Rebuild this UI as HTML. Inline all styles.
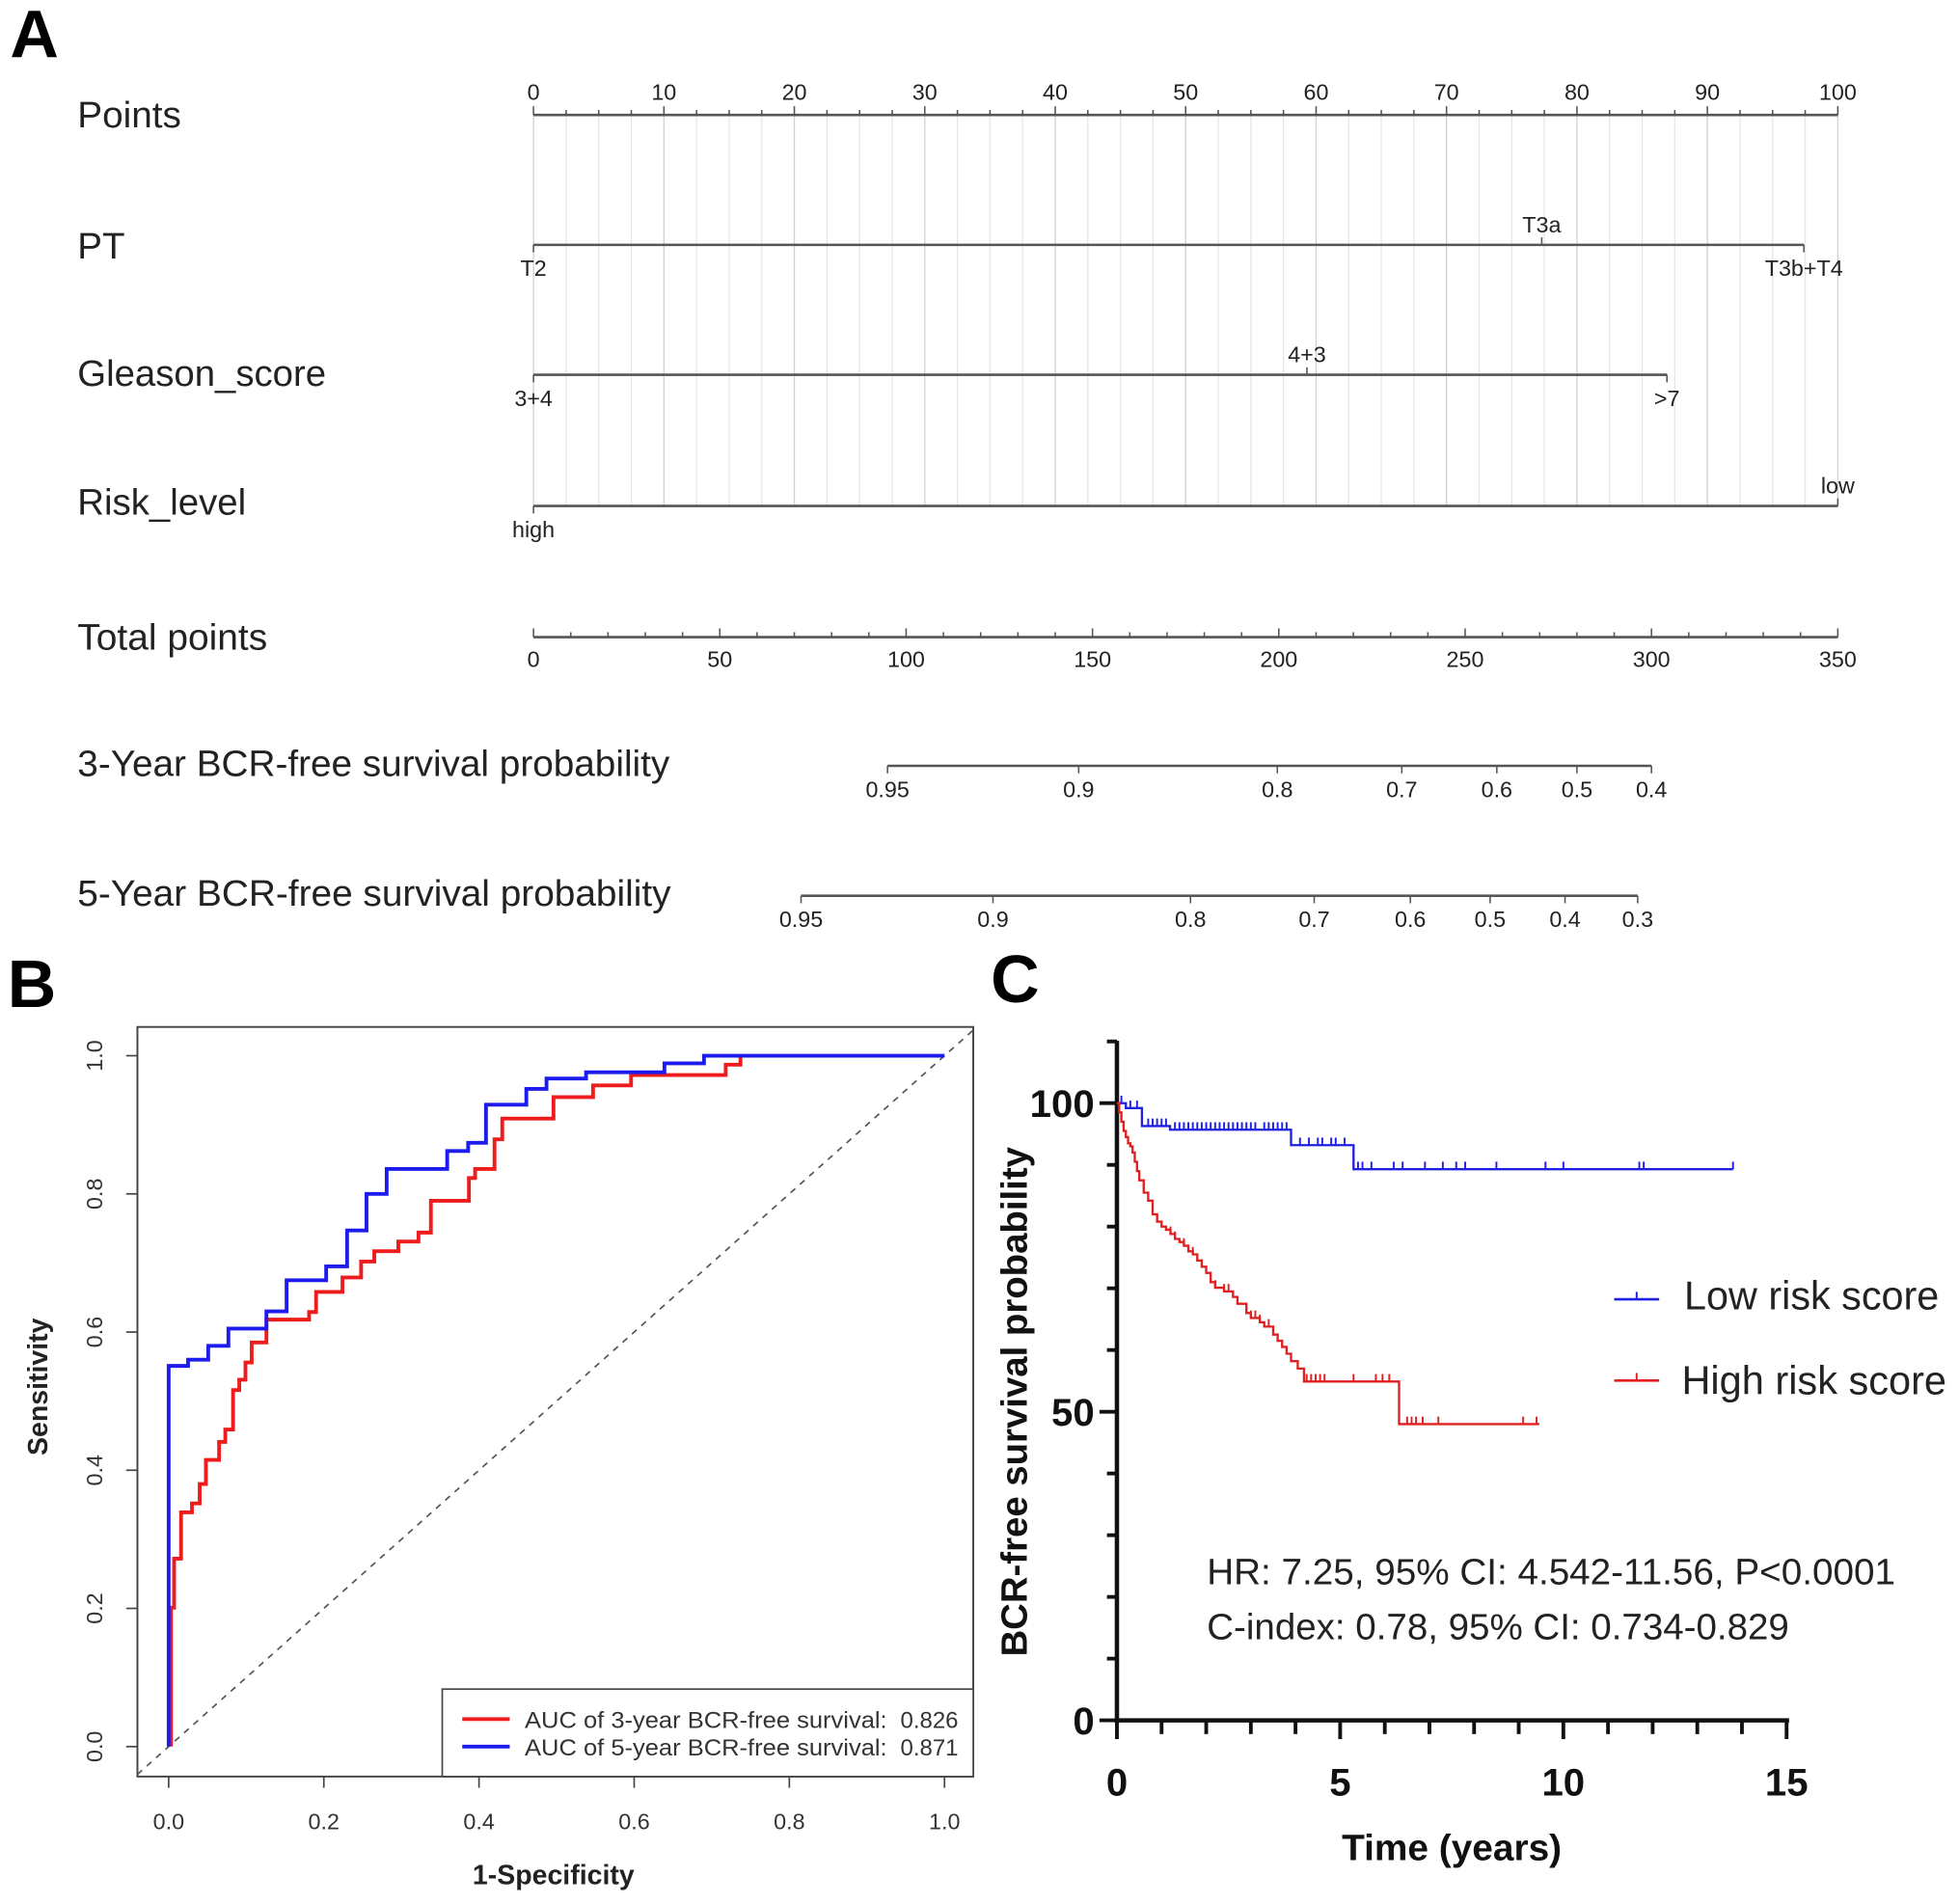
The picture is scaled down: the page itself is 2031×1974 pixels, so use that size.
<!DOCTYPE html>
<html><head><meta charset="utf-8"><style>
html,body{margin:0;padding:0;background:#fff}
svg{display:block}
text{font-family:"Liberation Sans",Arial,sans-serif}
</style></head><body>
<svg id="fig" xmlns="http://www.w3.org/2000/svg" width="2031" height="1974" viewBox="0 0 1568 1524" preserveAspectRatio="none">
<rect width="1568" height="1524" fill="#fff"/>
<text x="8" y="46" font-size="54" font-weight="bold">A</text>
<text x="6" y="806" font-size="54" font-weight="bold">B</text>
<text x="793" y="802" font-size="54" font-weight="bold">C</text>
<g id="nomo"></g>
<g id="roc"></g>
<g id="km"></g>
</svg>
<script>
// ===== Nomogram data =====
const pointTicks=[0,10,20,30,40,50,60,70,80,90,100];
const rowNames=["Points","PT","Gleason_score","Risk_level","Total points","3-Year BCR-free survival probability","5-Year BCR-free survival probability"];
const ptLevels=["T2","T3a","T3b+T4"];
const ptPoints=[0,77.3,97.4];
const gleasonLevels=["3+4","4+3",">7"];
const gleasonPoints=[0,59.3,86.9];
const riskLevels=["high","low"];
const riskPoints=[0,100];
const totalTicks=[0,50,100,150,200,250,300,350];
const surv3Labels=["0.95","0.9","0.8","0.7","0.6","0.5","0.4"];
const surv3Total=[95,146.3,199.6,233,258.5,280,300];
const surv5Labels=["0.95","0.9","0.8","0.7","0.6","0.5","0.4","0.3"];
const surv5Total=[71.8,123.3,176.3,209.5,235.3,256.7,276.8,296.3];

// ===== ROC data =====
const roc5Fpr=[0,0,0.025,0.051,0.077,0.126,0.152,0.203,0.230,0.255,0.281,0.359,0.386,0.409,0.461,0.487,0.538,0.639,0.690,1.0];
const roc5Tpr=[0,0.551,0.56,0.58,0.605,0.63,0.675,0.695,0.747,0.80,0.836,0.862,0.874,0.929,0.952,0.967,0.976,0.989,1.0,1.0];
const roc3Fpr=[0.003,0.003,0.007,0.016,0.030,0.040,0.048,0.065,0.073,0.083,0.091,0.099,0.107,0.126,0.181,0.190,0.224,0.248,0.265,0.296,0.322,0.338,0.387,0.395,0.420,0.430,0.496,0.547,0.596,0.718,0.737];
const roc3Tpr=[0,0.201,0.272,0.339,0.352,0.38,0.415,0.441,0.459,0.516,0.531,0.556,0.585,0.618,0.629,0.658,0.679,0.702,0.717,0.731,0.744,0.79,0.823,0.836,0.879,0.909,0.94,0.957,0.972,0.987,1.0];
const rocTicks=[0,0.2,0.4,0.6,0.8,1.0];

// ===== KM data =====
const lowTimes=[0,0.2,0.56,1.19,3.9,5.3,13.8];
const lowSurv=[100,99.2,96.3,95.7,93.2,89.3,89.3];
const lowCensor=[0.1,0.3,0.45,0.7,0.8,0.9,1.0,1.1,1.3,1.4,1.5,1.6,1.7,1.8,1.9,2.0,2.1,2.2,2.3,2.4,2.5,2.6,2.7,2.8,2.9,3.0,3.1,3.3,3.4,3.5,3.6,3.7,3.8,4.1,4.3,4.5,4.6,4.8,4.9,5.1,5.4,5.5,5.7,6.2,6.4,6.9,7.3,7.6,7.8,8.5,9.6,10.0,11.7,11.8,13.8];
const highTimes=[0,0.05,0.1,0.15,0.2,0.25,0.3,0.35,0.4,0.45,0.5,0.6,0.7,0.8,0.9,1.0,1.1,1.2,1.3,1.4,1.5,1.6,1.7,1.8,1.9,2.0,2.1,2.2,2.4,2.6,2.7,2.9,3.0,3.2,3.3,3.5,3.6,3.7,3.8,3.9,4.05,4.19,6.32,9.46];
const highSurv=[100,98.5,97,95.5,94.5,93.5,93,92,90.5,89,87.5,85.5,84.2,82,80.8,80,79.5,78.8,78,77.5,76.9,76,75.5,74.5,73.5,72.5,71,70.1,69.5,68.6,67.5,66,65.2,64.5,63.8,62.5,61.5,60.5,59.4,58.2,57,54.9,48,48];
const highCensor=[0.5,0.9,1.2,1.3,1.5,1.7,1.9,2.1,2.2,2.4,2.5,2.7,2.9,3.0,3.1,3.2,3.4,3.5,3.6,4.25,4.35,4.45,4.55,4.65,5.3,5.8,5.95,6.1,6.5,6.6,6.7,6.85,7.2,9.1,9.4];
const kmXTicks=[0,5,10,15];
const kmYTicks=[0,50,100];

const NS="http://www.w3.org/2000/svg";
function mk(tag,attrs,parent,txt){const e=document.createElementNS(NS,tag);for(const k in attrs)e.setAttribute(k,attrs[k]);if(txt!==undefined)e.textContent=txt;parent.appendChild(e);return e;}

// ---- Nomogram ----
(function(){
const g=document.getElementById('nomo');
const X0=427,X1=1471;
const px=p=>X0+(X1-X0)*p/100;
const tx=t=>X0+(X1-X0)*t/350;
const rowY=[92,197,299,402,510,611,715];
const rowLen=[83,38,199,135,152,474,475];
for(let p=0;p<=100;p+=2.5){
  const l=mk('line',{x1:px(p),x2:px(p),y1:92,y2:405,stroke:(p%10===0)?'#d0d0d0':'#e6e6e6','stroke-width':1},g);
  
  
}
rowNames.forEach((n,i)=>{
  const t=mk('text',{x:62,y:rowY[i]+10,'font-size':29,fill:'#222',textLength:rowLen[i],lengthAdjust:'spacingAndGlyphs'},g,n);
  
  
});
const ax=mk('line',{x1:px(0),x2:px(100),y1:92,y2:92,stroke:'#555','stroke-width':2},g);


for(let p=0;p<=100;p+=2.5){mk('line',{x1:px(p),x2:px(p),y1:92,y2:(p%10===0)?85:88,stroke:'#555','stroke-width':1.2},g);}
pointTicks.forEach(p=>{
  const t=mk('text',{x:px(p),y:80,'font-size':18,'text-anchor':'middle',fill:'#222'},g,String(p));
  
  
});
function factor(levels,pts,y,aboveIdx,name){
  const l=mk('line',{x1:px(Math.min(...pts)),x2:px(Math.max(...pts)),y1:y,y2:y,stroke:'#555','stroke-width':2},g);
  
  
  levels.forEach((lv,i)=>{
    const above=aboveIdx.includes(i);
    mk('line',{x1:px(pts[i]),x2:px(pts[i]),y1:y,y2:above?y-6:y+6,stroke:'#555','stroke-width':1.2},g);
    const t=mk('text',{x:px(pts[i]),y:above?y-10:y+25,'font-size':18,'text-anchor':'middle',fill:'#222'},g,lv);
    
    
  });
}
factor(ptLevels,ptPoints,196,[1],'pt');
factor(gleasonLevels,gleasonPoints,300,[1],'gleason');
factor(riskLevels,riskPoints,405,[1],'risk');
const ta=mk('line',{x1:tx(0),x2:tx(350),y1:510,y2:510,stroke:'#555','stroke-width':2},g);


for(let t=0;t<=350;t+=10){mk('line',{x1:tx(t),x2:tx(t),y1:510,y2:(t%50===0)?503:506,stroke:'#555','stroke-width':1.2},g);}
totalTicks.forEach(t=>{
  const e=mk('text',{x:tx(t),y:534,'font-size':18,'text-anchor':'middle',fill:'#222'},g,String(t));
  
  
});
function survAxis(labels,tot,y,name){
  const l=mk('line',{x1:tx(Math.min(...tot)),x2:tx(Math.max(...tot)),y1:y,y2:y,stroke:'#555','stroke-width':2},g);
  
  
  labels.forEach((lb,i)=>{
    mk('line',{x1:tx(tot[i]),x2:tx(tot[i]),y1:y,y2:y+6,stroke:'#555','stroke-width':1.2},g);
    const t=mk('text',{x:tx(tot[i]),y:y+25,'font-size':18,'text-anchor':'middle',fill:'#222'},g,lb);
    
    
  });
}
survAxis(surv3Labels,surv3Total,613,'surv3');
survAxis(surv5Labels,surv5Total,717,'surv5');
})();

// ---- ROC ----
(function(){
const g=document.getElementById('roc');
const xs=v=>135+(756-135)*v;
const ys=v=>1398-(1398-845)*v;
const box=mk('rect',{x:110,y:822,width:669,height:600,fill:'none',stroke:'#444','stroke-width':1.5},g);


const d=mk('line',{x1:110,y1:ys(-(135-110)/621),x2:779,y2:ys((779-135)/621),stroke:'#555','stroke-width':1.3,'stroke-dasharray':'5,5'},g);


rocTicks.forEach(v=>{
  mk('line',{x1:xs(v),x2:xs(v),y1:1422,y2:1431,stroke:'#444','stroke-width':1.3},g);
  const t=mk('text',{x:xs(v),y:1464,'font-size':18,'text-anchor':'middle',fill:'#333'},g,v.toFixed(1));
  
  
  mk('line',{x1:110,x2:101,y1:ys(v),y2:ys(v),stroke:'#444','stroke-width':1.3},g);
  const u=mk('text',{x:82,y:ys(v),'font-size':18,'text-anchor':'middle',fill:'#333',transform:`rotate(-90 82 ${ys(v)})`},g,v.toFixed(1));
  
  
});
function stepPath(fx,fy){let s=`M${xs(fx[0])},${ys(fy[0])}`;for(let i=1;i<fx.length;i++){s+=`L${xs(fx[i])},${ys(fy[i-1])}L${xs(fx[i])},${ys(fy[i])}`;}return s;}
const r=mk('path',{d:stepPath(roc3Fpr,roc3Tpr),fill:'none',stroke:'#ee1c1c','stroke-width':3},g);


const b=mk('path',{d:stepPath(roc5Fpr,roc5Tpr),fill:'none',stroke:'#1c1cee','stroke-width':3},g);


const lg=mk('g',{},g);


mk('rect',{x:354,y:1352,width:425,height:70,fill:'#fff',stroke:'#444','stroke-width':1.3},lg);
mk('line',{x1:370,x2:408,y1:1376,y2:1376,stroke:'#ee1c1c','stroke-width':3},lg);
mk('line',{x1:370,x2:408,y1:1398,y2:1398,stroke:'#1c1cee','stroke-width':3},lg);
const l1=mk('text',{x:420,y:1383,'font-size':18.5,fill:'#333',textLength:290,lengthAdjust:'spacingAndGlyphs'},lg,'AUC of 3-year BCR-free survival:');


mk('text',{x:767,y:1383,'font-size':18.5,fill:'#333','text-anchor':'end'},lg,'0.826');
const l2=mk('text',{x:420,y:1405,'font-size':18.5,fill:'#333',textLength:290,lengthAdjust:'spacingAndGlyphs'},lg,'AUC of 5-year BCR-free survival:');


mk('text',{x:767,y:1405,'font-size':18.5,fill:'#333','text-anchor':'end'},lg,'0.871');
const xt=mk('text',{x:443,y:1508,'font-size':22,'font-weight':'bold','text-anchor':'middle',fill:'#222'},g,'1-Specificity');


const yt=mk('text',{x:38,y:1110,'font-size':22,'font-weight':'bold','text-anchor':'middle',fill:'#222',transform:'rotate(-90 38 1110)'},g,'Sensitivity');


})();

// ---- KM ----
(function(){
const g=document.getElementById('km');
const xs=t=>894+(1430-894)*t/15;
const ys=v=>1377-(1377-883)*v/100;
const ya=mk('line',{x1:894,x2:894,y1:833,y2:1379,stroke:'#111','stroke-width':3.5},g);


const xa=mk('line',{x1:892,x2:1432,y1:1377,y2:1377,stroke:'#111','stroke-width':3.5},g);


for(let v=0;v<=110;v+=10){mk('line',{x1:894,x2:(v%50===0)?880:886,y1:ys(v),y2:ys(v),stroke:'#111','stroke-width':3},g);}
for(let t=0;t<=15;t+=1){mk('line',{x1:xs(t),x2:xs(t),y1:1377,y2:(t%5===0)?1392:1388,stroke:'#111','stroke-width':3},g);}
kmYTicks.forEach(v=>{
  const e=mk('text',{x:876,y:ys(v)+11,'font-size':31,'font-weight':'bold','text-anchor':'end',fill:'#111'},g,String(v));
  
  
});
kmXTicks.forEach(t=>{
  const e=mk('text',{x:xs(t),y:1437,'font-size':31,'font-weight':'bold','text-anchor':'middle',fill:'#111'},g,String(t));
  
  
});
function stepPath(tt,ss){let s=`M${xs(tt[0])},${ys(ss[0])}`;for(let i=1;i<tt.length;i++){s+=`L${xs(tt[i])},${ys(ss[i-1])}L${xs(tt[i])},${ys(ss[i])}`;}return s;}
function survAt(tt,ss,t){let v=ss[0];for(let i=0;i<tt.length;i++){if(tt[i]<=t)v=ss[i];}return v;}
const lp=mk('path',{d:stepPath(lowTimes,lowSurv),fill:'none',stroke:'#2020e0','stroke-width':1.8},g);


const hp=mk('path',{d:stepPath(highTimes,highSurv),fill:'none',stroke:'#e02020','stroke-width':1.8},g);


lowCensor.forEach(t=>{const y=ys(survAt(lowTimes,lowSurv,t));const c=mk('line',{x1:xs(t),x2:xs(t),y1:y-6,y2:y,stroke:'#2020e0','stroke-width':1.5},g);
  
  });
highCensor.forEach(t=>{const y=ys(survAt(highTimes,highSurv,t));const c=mk('line',{x1:xs(t),x2:xs(t),y1:y-6,y2:y,stroke:'#e02020','stroke-width':1.5},g);
  
  });
const lg=mk('g',{},g);


mk('line',{x1:1292,x2:1328,y1:1040,y2:1040,stroke:'#2020e0','stroke-width':2},lg);
mk('line',{x1:1310,x2:1310,y1:1034,y2:1040,stroke:'#2020e0','stroke-width':1.5},lg);
mk('line',{x1:1292,x2:1328,y1:1105,y2:1105,stroke:'#e02020','stroke-width':2},lg);
mk('line',{x1:1310,x2:1310,y1:1099,y2:1105,stroke:'#e02020','stroke-width':1.5},lg);
const a=mk('text',{x:1348,y:1048,'font-size':32,fill:'#222',textLength:204,lengthAdjust:'spacingAndGlyphs'},lg,'Low risk score');


const b=mk('text',{x:1346,y:1116,'font-size':32,fill:'#222',textLength:212,lengthAdjust:'spacingAndGlyphs'},lg,'High risk score');


const h=mk('text',{x:966,y:1268,'font-size':29.5,fill:'#222',textLength:551,lengthAdjust:'spacingAndGlyphs'},g,'HR: 7.25, 95% CI: 4.542-11.56, P<0.0001');


const c=mk('text',{x:966,y:1312,'font-size':29.5,fill:'#222',textLength:466,lengthAdjust:'spacingAndGlyphs'},g,'C-index: 0.78, 95% CI: 0.734-0.829');


const xt=mk('text',{x:1162,y:1489,'font-size':29,'font-weight':'bold','text-anchor':'middle',fill:'#111',textLength:176,lengthAdjust:'spacingAndGlyphs'},g,'Time (years)');


const yt=mk('text',{x:822,y:1122,'font-size':29,'font-weight':'bold','text-anchor':'middle',fill:'#111',transform:'rotate(-90 822 1122)',textLength:408,lengthAdjust:'spacingAndGlyphs'},g,'BCR-free survival probability');


})();
</script>
</body></html>
